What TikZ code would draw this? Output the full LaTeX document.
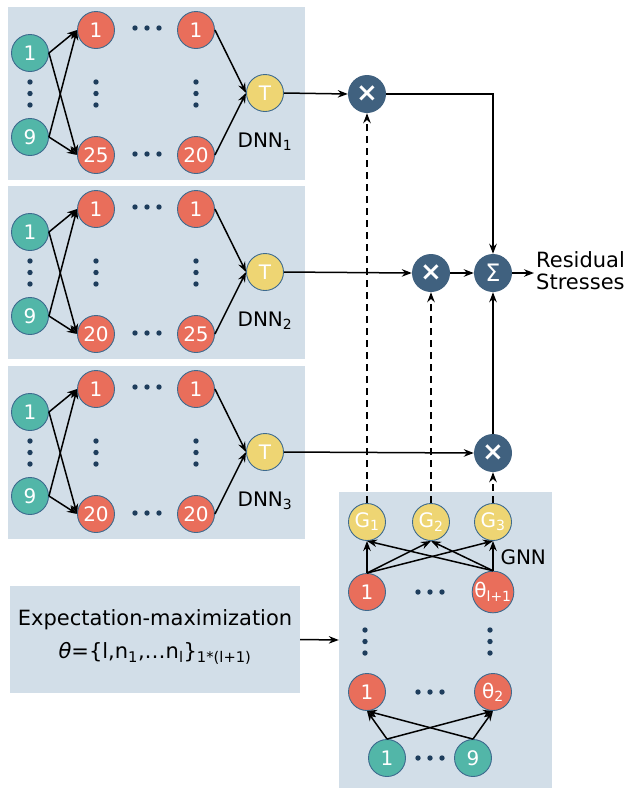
\documentclass[tikz,border=0pt]{standalone}
\usepackage{fontspec}
\setmainfont{DejaVu Sans}
\usetikzlibrary{arrows.meta}
\definecolor{panelbg}{HTML}{D2DEE8}
\definecolor{tealc}{HTML}{52B6A8}
\definecolor{redc}{HTML}{E96E5B}
\definecolor{yelc}{HTML}{EED573}
\definecolor{navy}{HTML}{40617F}
\definecolor{edgec}{HTML}{3D6A8E}
\definecolor{dotc}{HTML}{1E3D5C}
\begin{document}
\begin{tikzpicture}[x=1pt,y=-1pt,
  neuron/.style={circle,minimum size=37pt,inner sep=0pt,draw=edgec,line width=0.9pt,text=white,font=\fontsize{20}{20}\selectfont},
  inp/.style={neuron,fill=tealc},
  hid/.style={neuron,fill=redc},
  outn/.style={neuron,fill=yelc},
  opn/.style={circle,minimum size=38pt,inner sep=0pt,fill=navy,text=white},
  panel/.style={rectangle,fill=panelbg,draw=none,inner sep=0pt},
  conn/.style={-{Stealth[length=10pt,width=7.5pt]},line width=1.5pt,black},
  dconn/.style={conn,dash pattern=on 7pt off 5pt},
  lbl/.style={font=\fontsize{20}{21}\selectfont,text=black},
  biglbl/.style={font=\fontsize{21}{22}\selectfont,text=black},
  dotr/.style={fill=dotc}
]
\useasboundingbox (0,0) rectangle (627,788);

% ---------- DNN panels ----------
\foreach \k/\dy/\a/\b in {1/0/25/20, 2/179/20/25, 3/359/20/20} {
  \node[panel,minimum width=297pt,minimum height=173pt] (p\k) at (156.5,{93.5+\dy}) {};
  \node[inp] (i1-\k) at (30,{53+\dy}) {1};
  \node[inp] (i9-\k) at (30,{137+\dy}) {9};
  \node[hid] (a1-\k) at (96,{30+\dy}) {1};
  \node[hid] (a2-\k) at (96,{155+\dy}) {\a};
  \node[hid] (b1-\k) at (196,{30+\dy}) {1};
  \node[hid] (b2-\k) at (196,{155+\dy}) {\b};
  \node[outn] (t-\k) at (265,{93+\dy}) {T};
  \node[lbl,anchor=base] (dl-\k) at (265,{147+\dy}) {DNN\textsubscript{\k}};
  \foreach \x in {135,147,159} {
    \fill[dotr] (\x,{28+\dy}) circle (2.7pt);
    \fill[dotr] (\x,{154+\dy}) circle (2.7pt);
  }
  \foreach \x in {30,96,196} {
    \foreach \yy in {82,93.5,105} {
      \fill[dotr] (\x,{\yy+\dy}) circle (2.7pt);
    }
  }
  \draw[conn] (i1-\k.east) -- (a1-\k.west);
  \draw[conn] (i1-\k.east) -- (a2-\k.west);
  \draw[conn] (i9-\k.east) -- (a1-\k.west);
  \draw[conn] (i9-\k.east) -- (a2-\k.west);
  \draw[conn] (b1-\k.east) -- (t-\k.west);
  \draw[conn] (b2-\k.east) -- (t-\k.west);
}

% ---------- combination ----------
\node[opn,font=\fontsize{26}{26}\selectfont\bfseries] (m1) at (367,94) {×};
\node[opn,font=\fontsize{26}{26}\selectfont\bfseries] (m2) at (431,273) {×};
\node[opn,font=\fontsize{24}{24}\selectfont] (S) at (493,273) {Σ};
\node[opn,font=\fontsize{26}{26}\selectfont\bfseries] (m3) at (493,453) {×};
\node[biglbl,anchor=west,align=left,inner sep=2pt] (res) at (534,271) {Residual\\Stresses};

\draw[conn] (t-1.east) -- (m1.west);
\draw[conn] (t-2.east) -- (m2.west);
\draw[conn] (t-3.east) -- (m3.west);
\draw[conn] (m1.east) -| (S.north);
\draw[conn] (m2.east) -- (S.west);
\draw[conn] (m3.north) -- (S.south);
\draw[conn] (S.east) -- (res.west |- S.east);

% ---------- GNN panel ----------
\node[panel,minimum width=213pt,minimum height=296pt] (gnn) at (445.5,640) {};
\node[outn] (g1) at (367,522) {G\textsubscript{1}};
\node[outn] (g2) at (431,522) {G\textsubscript{2}};
\node[outn] (g3) at (493,522) {G\textsubscript{3}};
\node[hid] (r1) at (367,592) {1};
\node[hid] (rl) at (493,592) {θ\textsubscript{l+1}};
\node[hid] (s1) at (367,692) {1};
\node[hid] (s2) at (493,692) {θ\textsubscript{2}};
\node[inp] (n1) at (387,758) {1};
\node[inp] (n9) at (473,758) {9};
\node[lbl,anchor=west] (gl) at (497,557) {GNN};
\foreach \x in {418,430,442} {
  \fill[dotr] (\x,592) circle (2.7pt);
  \fill[dotr] (\x,692) circle (2.7pt);
  \fill[dotr] (\x,758) circle (2.7pt);
}
\foreach \x in {365,490} {
  \foreach \yy in {630,641.5,653} {
    \fill[dotr] (\x,\yy) circle (2.7pt);
  }
}
\foreach \s in {r1,rl} {
  \foreach \g in {g1,g2,g3} {
    \draw[conn] (\s.north) -- (\g.south);
  }
}
\foreach \s in {n1,n9} {
  \foreach \g in {s1,s2} {
    \draw[conn] (\s.north) -- (\g.south);
  }
}
\draw[dconn] (g1.north) -- (m1.south);
\draw[dconn] (g2.north) -- (m2.south);
\draw[dconn] (g3.north) -- (m3.south);

% ---------- EM box ----------
\node[panel,minimum width=290pt,minimum height=107pt] (em) at (155,639.5) {};
\node[biglbl,align=center] (emt) at (155,637)
  {Expectation-maximization\\[11pt]\textit{θ}=\{l,n\textsubscript{1},…n\textsubscript{l}\}\textsubscript{1*(l+1)}};
\draw[conn] (em.east) -- (gnn.west);
\end{tikzpicture}
\end{document}
